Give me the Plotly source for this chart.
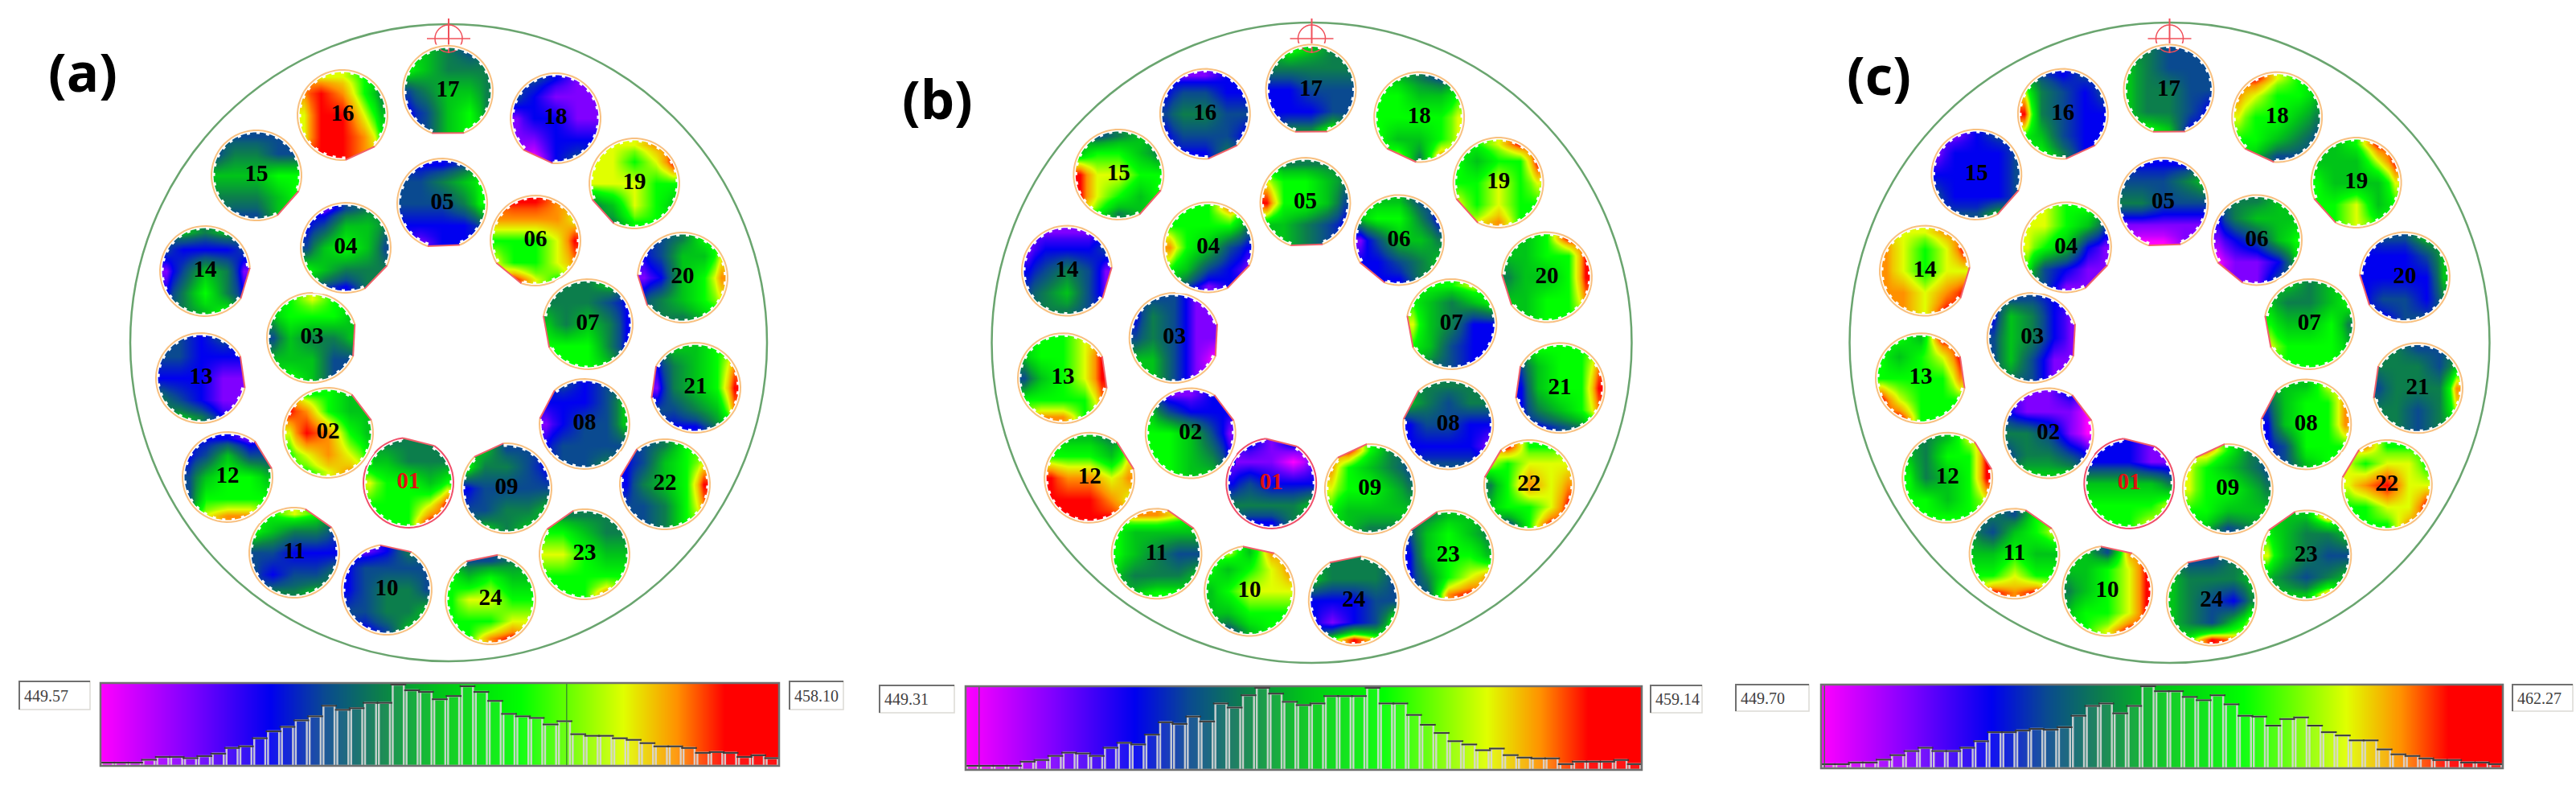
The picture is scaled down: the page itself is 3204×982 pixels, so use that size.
import numpy as np
import plotly.graph_objects as go

# wafer maps: levels 0 (magenta) .. 9 (red), 21 cells per pocket, read row by row
# rows have 3,5,5,5,3 cells (the square's corners fall outside the wafer)
plate_a = [
    [4,4,4, 5,5,4,4,4, 7,6,6,5,6, 6,6,6,7,9, 6,6,9],  # 01
    [6,6,5, 9,8,6,5,5, 7,9,8,6,5, 6,7,8,7,6, 6,7,8],
    [6,7,6, 5,6,6,6,5, 3,5,4,4,5, 5,5,5,3,3, 6,5,3],
    [1,3,4, 2,3,5,5,4, 3,5,6,5,3, 6,5,4,4,4, 3,2,4],
    [2,2,3, 3,3,4,5,6, 3,3,3,4,6, 2,2,2,2,3, 1,2,2],  # 05
    [9,9,8, 8,8,8,8,7, 6,6,6,7,9, 7,6,6,7,8, 9,7,6],
    [4,4,5, 4,4,4,3,2, 5,4,5,4,2, 6,6,6,4,2, 6,6,5],
    [3,2,3, 2,2,2,3,5, 1,2,3,3,5, 2,3,3,3,3, 3,3,4],
    [5,3,3, 6,4,4,3,2, 2,3,3,3,3, 3,3,4,4,5, 5,4,5],
    [1,2,4, 2,3,3,3,3, 2,3,4,4,3, 3,3,4,4,5, 2,3,5],  # 10
    [6,7,6, 6,5,4,4,3, 3,3,2,2,2, 3,2,3,3,4, 4,4,5],
    [2,2,1, 2,3,5,3,3, 3,5,6,6,5, 3,6,6,6,6, 7,8,8],
    [3,2,3, 3,3,2,2,2, 2,2,2,1,1, 4,3,2,1,1, 5,4,2],
    [5,4,5, 3,2,2,2,3, 1,3,5,4,1, 2,4,6,4,2, 4,5,6],
    [3,3,3, 3,4,4,3,3, 5,5,5,6,6, 4,4,4,5,6, 3,3,5],  # 15
    [7,7,6, 8,9,8,6,4, 7,9,9,7,5, 7,9,9,8,6, 9,9,8],
    [5,4,3, 6,5,4,4,4, 3,4,5,5,4, 2,3,5,6,4, 3,5,6],
    [3,2,1, 3,2,1,1,1, 1,2,2,1,1, 1,1,2,2,2, 0,2,3],
    [7,7,8, 7,7,6,7,9, 7,7,7,6,6, 4,5,7,6,5, 4,6,6],
    [3,4,6, 2,3,5,5,7, 1,2,5,6,8, 3,4,5,6,7, 4,4,5],  # 20
    [5,5,6, 2,4,5,6,8, 1,4,5,6,9, 3,3,4,5,8, 2,2,4],
    [3,4,6, 2,3,5,6,7, 2,4,5,6,9, 3,3,4,6,8, 3,4,6],
    [4,4,4, 6,6,5,4,4, 7,7,6,5,5, 6,6,6,6,6, 6,6,8],
    [3,3,4, 6,5,6,5,5, 6,7,7,6,6, 6,6,6,7,7, 6,8,9],
]
plate_b = [
    [2,1,2, 1,1,1,0,1, 2,3,2,2,2, 4,4,4,4,5, 2,2,4],  # 01
    [1,1,2, 5,3,2,2,2, 6,6,5,3,1, 6,6,5,4,2, 6,5,5],
    [3,3,1, 2,4,3,1,1, 3,4,3,1,1, 5,5,3,1,0, 5,3,1],
    [6,6,8, 6,6,6,6,4, 8,6,5,3,2, 6,5,3,2,1, 3,1,2],
    [4,4,4, 7,6,6,5,4, 9,6,6,5,3, 5,5,4,3,2, 5,4,3],  # 05
    [5,5,3, 5,6,6,4,2, 1,3,5,5,4, 2,2,3,4,5, 2,2,4],
    [6,6,7, 6,5,4,5,6, 7,5,4,2,2, 6,5,3,2,2, 4,3,2],
    [4,4,4, 5,4,3,4,4, 2,3,3,2,2, 2,2,2,2,1, 3,3,3],
    [9,6,4, 8,6,5,4,3, 7,6,6,5,4, 6,5,5,5,5, 5,4,4],
    [7,5,8, 6,5,6,7,8, 5,6,7,7,7, 5,5,6,6,6, 3,5,6],  # 10
    [8,8,7, 6,5,5,5,5, 6,5,4,3,3, 5,4,4,4,5, 5,6,6],
    [5,5,4, 6,6,6,5,7, 9,8,8,7,8, 9,9,9,8,7, 9,9,9],
    [6,6,7, 5,6,6,7,9, 3,5,6,7,9, 6,6,6,6,8, 8,8,6],
    [1,1,1, 1,2,2,2,3, 2,3,4,3,1, 3,4,5,3,1, 4,4,3],
    [3,4,5, 5,6,6,5,4, 9,7,7,6,6, 9,7,6,5,6, 6,4,5],  # 15
    [1,1,2, 2,3,3,2,2, 3,4,4,3,3, 2,3,3,3,2, 2,2,4],
    [6,5,4, 4,4,4,4,4, 2,2,3,3,3, 2,2,2,3,3, 4,4,6],
    [5,4,3, 6,6,5,5,6, 6,6,6,6,7, 6,5,5,6,7, 7,4,8],
    [6,7,9, 6,5,6,6,9, 6,6,7,6,7, 7,6,7,6,6, 7,8,6],
    [5,6,9, 5,5,6,6,9, 4,5,5,6,9, 5,5,6,6,8, 5,6,6],  # 20
    [6,6,6, 3,5,6,6,8, 2,5,6,6,9, 2,4,5,6,8, 2,3,4],
    [9,6,6, 7,6,7,7,7, 4,6,8,7,8, 5,6,6,7,9, 3,6,9],
    [4,5,5, 3,5,6,5,4, 2,5,6,6,5, 2,4,6,7,8, 3,8,9],
    [4,4,4, 5,4,4,4,3, 2,2,2,3,3, 2,1,2,3,6, 6,9,7],
]
plate_c = [
    [2,2,1, 2,2,2,1,1, 5,5,5,5,4, 6,6,6,6,7, 6,6,7],  # 01
    [1,1,2, 2,1,1,1,0, 4,4,3,1,0, 3,4,4,3,2, 5,5,5],
    [3,3,2, 2,5,4,2,1, 3,5,4,2,1, 3,5,3,1,1, 4,3,1],
    [7,6,6, 7,7,6,5,3, 7,6,5,2,1, 6,3,2,1,1, 3,1,1],
    [2,2,2, 3,3,3,4,5, 4,4,3,3,3, 1,1,1,1,1, 0,0,1],  # 05
    [4,4,5, 2,4,5,5,5, 1,2,3,5,6, 0,1,1,2,5, 1,1,3],
    [5,4,5, 5,4,4,5,6, 6,5,5,6,4, 7,6,6,6,5, 6,6,6],
    [5,5,7, 3,5,6,6,8, 2,5,6,6,8, 2,3,6,6,6, 3,5,6],
    [8,6,4, 7,6,5,4,3, 7,6,6,5,4, 6,6,5,5,5, 5,3,4],
    [5,3,8, 5,5,6,7,9, 4,5,6,7,9, 5,6,6,7,9, 6,7,9],  # 10
    [4,3,6, 4,3,5,6,7, 5,5,6,5,5, 6,6,7,6,6, 9,8,9],
    [4,5,7, 5,4,6,6,9, 6,4,5,6,9, 6,6,5,6,7, 6,6,6],
    [6,5,9, 6,5,6,7,9, 6,6,6,6,8, 9,7,6,6,6, 9,6,6],
    [7,7,8, 8,7,6,7,9, 8,7,6,7,7, 8,8,7,8,9, 8,7,9],
    [1,2,3, 1,2,2,2,3, 2,2,2,2,3, 3,2,2,2,3, 3,3,5],  # 15
    [3,2,3, 7,4,3,2,3, 9,4,3,2,2, 6,5,3,2,2, 6,4,2],
    [4,3,3, 5,4,3,3,3, 5,4,4,3,3, 5,4,4,3,2, 6,5,2],
    [9,7,6, 8,7,6,6,5, 7,6,6,5,4, 6,6,5,4,3, 5,3,3],
    [5,6,9, 5,5,5,7,9, 6,5,5,5,7, 6,6,7,5,6, 6,7,6],
    [3,3,5, 2,2,2,3,5, 2,2,2,2,5, 2,3,3,2,4, 2,3,3],  # 20
    [4,3,3, 4,4,4,3,5, 3,4,4,4,8, 4,4,3,4,7, 4,3,4],
    [8,6,6, 7,6,7,7,6, 7,8,9,7,7, 6,6,7,7,9, 6,6,8],
    [5,5,8, 6,5,4,4,5, 7,5,4,3,3, 5,4,3,4,5, 5,5,8],
    [3,3,4, 5,4,4,4,5, 5,4,3,2,4, 5,4,3,5,7, 6,9,8],
]

# pocket positions on the plate, relative to its centre (plate radius 396)
pocket_names = ["%02d" % i for i in range(1, 25)]
pocket_x = [-50, -150, -170, -128, -8, 108, 173, 169, 72, -77, -192, -275, -308, -303, -239, -132,
            -1, 133, 231, 291, 307, 269, 169, 52]
pocket_y = [174, 112, -6, -118, -173, -127, -23, 101, 181, 307, 261, 167, 44, -89, -208, -283,
            -313, -279, -198, -81, 56, 176, 263, 319]

# histogram heights, percent of the tallest bar
hist_a = [4,4,4,7.5,11,11,9.5,12,15,22,24,34,42.5,48,56,61,74,69,71,77.6,77.6,100,93,91,82,86,98,91,80,
          64,61,59,51,55,39,37,37,34,32,28,24,24,22,16,17,16,11,13,9.5]
hist_b = [5,5,5,5,10,12,17,21,20,17,27,33,31,43,58,56,65,59,81,76,91,100,93,83,79,81,90,90,90,100,
          81,81,67,55,45,35,31,24,26,18,15,14,14,7,10,10,10,12,7]
hist_c = [5,5,7,7,10.5,16,21,25,21,21,25,33,44,44,46,48,47,50,64,76,79,67,76,100,94,94,87,83,89,78,
          64,63,52,60,62,52,44,40,34,34,23,17,15,12,10,10,7,7,5]
range_a = ["449.57", "458.10"]
range_b = ["449.31", "459.14"]
range_c = ["449.70", "462.27"]
marker_a, marker_b, marker_c = 0.687, 0.02, 0.005
panel_labels = ["(a)", "(b)", "(c)"]

# colour bar: level reached at each fraction of its length
gradient_pos = [0, 0.13, 0.25, 0.33, 0.41, 0.5, 0.62, 0.77, 0.85, 0.92, 1]
gradient_lev = [0, 1, 2, 3, 4, 5, 6, 7, 8, 9, 9]
level_colors = ["#ff00ff", "#8000ff", "#0000f0", "#0a4a90", "#0c7e4c", "#00c418", "#00ff00",
                "#e0ff00", "#ff9000", "#ff0000"]
scale = [[i / 9, c] for i, c in enumerate(level_colors)]

R = 56
EDGES = [-1, -0.72, -0.25, 0.25, 0.72, 1]
RING_SHIFT = (-5, 6)
FLAT = 0.94

panels = [
    dict(levels=plate_a, hist=hist_a, rng=range_a, mark=marker_a, cx=558, cy=426, k=1.0,
         bar=(125, 969, 849, 952), lbox=(24, 112, 847, 882), rbox=(982, 1049, 847, 882), lab=(58, 88)),
    dict(levels=plate_b, hist=hist_b, rng=range_b, mark=marker_b, cx=1631.5, cy=426, k=1.005,
         bar=(1201, 2042, 853, 957), lbox=(1094, 1187, 852, 886), rbox=(2053, 2117, 852, 886), lab=(1120, 122)),
    dict(levels=plate_c, hist=hist_c, rng=range_c, mark=marker_c, cx=2698.5, cy=426, k=1.005,
         bar=(2265, 3113, 851, 955), lbox=(2159, 2250, 851, 884), rbox=(3125, 3200, 851, 884), lab=(2295, 92)),
]


def unfold(cells):
    # 21 cells -> 5x5 grid with empty corners
    rows = [[None] + cells[:3] + [None], cells[3:8], cells[8:13], cells[13:18], [None] + cells[18:21] + [None]]
    return rows


def wafer_outline(cx, cy, r, a):
    # circle with the flat facing direction a, as a list of points
    half = np.degrees(np.arccos(FLAT))
    angles = np.radians(np.arange(half, 360 - half + 0.1, 6)) + a
    return [(cx + r * np.cos(t), cy + r * np.sin(t)) for t in angles]


def to_path(points, close=True):
    s = "M" + " L".join("%.1f,%.1f" % p for p in points)
    return s + (" Z" if close else "")


def mask_points(i, xs, ys):
    # outer edge of the white mask round wafer i: the heatmap's cross-shaped footprint,
    # stopped short of any neighbouring wafer so the mask never bites into it
    pts = []
    for deg in np.arange(0, 360, 2):
        c, s = np.cos(np.radians(deg)), np.sin(np.radians(deg))
        u, v = max(abs(c), 1e-6), max(abs(s), 1e-6)
        reach = max(min(.72 / u, 1 / v), min(1 / u, .72 / v)) * R + 1.5
        for j in range(len(xs)):
            if j == i:
                continue
            dx, dy = xs[j] - xs[i], ys[j] - ys[i]
            along = dx * c + dy * s
            gap = R * R - (dx * dx + dy * dy - along * along)
            if along > 0 and gap > 0:
                reach = min(reach, max(along - np.sqrt(gap), R))
        pts.append((xs[i] + reach * c, ys[i] + reach * s))
    return pts


fig = go.Figure()
shapes = []
notes = []

for n, p in enumerate(panels):
    cx, cy, k = p["cx"], p["cy"], p["k"]
    plate_r = 396 * k
    shapes.append(dict(type="circle", x0=cx - plate_r, x1=cx + plate_r, y0=cy - plate_r, y1=cy + plate_r,
                       line=dict(color="#6aa56f", width=2.5)))
    # red target above pocket 17
    shapes.append(dict(type="circle", x0=cx - 17, x1=cx + 17, y0=cy - 395, y1=cy - 361,
                       line=dict(color="#f0505a", width=1.5)))
    shapes.append(dict(type="line", x0=cx - 27, x1=cx + 27, y0=cy - 378, y1=cy - 378,
                       line=dict(color="#f0505a", width=1.5)))
    shapes.append(dict(type="line", x0=cx, x1=cx, y0=cy - 403, y1=cy - 360,
                       line=dict(color="#f0505a", width=2)))

    xs = [cx + v * k for v in pocket_x]
    ys = [cy + v * k for v in pocket_y]
    for i, cells in enumerate(p["levels"]):
        wx, wy = xs[i], ys[i]
        fig.add_trace(go.Heatmap(x=[wx + e * R for e in EDGES], y=[wy + e * R for e in EDGES],
                                 z=unfold(cells), coloraxis="coloraxis", zsmooth="best",
                                 hoverinfo="skip"))
        a = np.arctan2(cy + RING_SHIFT[1] - wy, cx + RING_SHIFT[0] - wx)
        outline = wafer_outline(wx, wy, R, a)
        mask = to_path(mask_points(i, xs, ys)) + " " + to_path(outline)
        shapes.append(dict(type="path", path=mask, fillcolor="white", line=dict(width=0)))
        # toothed white rim of the measured area
        shapes.append(dict(type="path", path=to_path(wafer_outline(wx, wy, R - 1, a), close=False),
                           line=dict(color="white", width=3)))
        shapes.append(dict(type="path", path=to_path(wafer_outline(wx, wy, R - 3, a), close=False),
                           line=dict(color="white", width=3, dash="4px,8px")))
        shapes.append(dict(type="path", path=to_path(outline, close=False),
                           line=dict(color="#f0506a" if i == 0 else "#f8c080", width=2)))
        shapes.append(dict(type="line", x0=outline[0][0], y0=outline[0][1], x1=outline[-1][0], y1=outline[-1][1],
                           line=dict(color="#f0606a", width=2)))
    fig.add_trace(go.Scatter(x=xs, y=ys, mode="text", text=pocket_names, hoverinfo="skip",
                             textposition="middle center",
                             textfont=dict(family="Liberation Serif", size=29, weight="bold",
                                           color=["#e01010"] + ["black"] * 23)))

    # colour bar with the histogram on top
    x0, x1, y0, y1 = p["bar"]
    ax = n + 2
    fig.add_trace(go.Heatmap(x=gradient_pos, y=[0, 102], z=[gradient_lev], coloraxis="coloraxis",
                             zsmooth="best", hoverinfo="skip", xaxis="x%d" % ax, yaxis="y%d" % ax))
    bins = len(p["hist"])
    centres = (np.arange(bins) + 0.5) / bins
    fig.add_trace(go.Bar(x=centres, y=p["hist"], width=0.8 / bins, hoverinfo="skip",
                         marker=dict(color="rgba(255,255,255,0.08)",
                                     line=dict(color="rgba(215,215,215,0.9)", width=2.5)),
                         xaxis="x%d" % ax, yaxis="y%d" % ax))
    fig.add_trace(go.Scatter(x=centres, y=p["hist"], mode="markers", hoverinfo="skip",
                             marker=dict(symbol="line-ew", size=14, line=dict(color="#383838", width=2)),
                             xaxis="x%d" % ax, yaxis="y%d" % ax))
    fig.add_trace(go.Scatter(x=[p["mark"], p["mark"]], y=[-3, 102], mode="lines", hoverinfo="skip",
                             line=dict(color="#2e7d32", width=1.2), cliponaxis=False,
                             xaxis="x%d" % ax, yaxis="y%d" % ax))
    fig.layout["xaxis%d" % ax] = dict(domain=[x0 / 3204, x1 / 3204], range=[0, 1], visible=False,
                                      anchor="y%d" % ax)
    fig.layout["yaxis%d" % ax] = dict(domain=[1 - y1 / 982, 1 - y0 / 982], range=[0, 102], visible=False,
                                      anchor="x%d" % ax)
    shapes.append(dict(type="rect", x0=x0, x1=x1, y0=y0, y1=y1, layer="above",
                       line=dict(color="#707070", width=2.5)))

    # min / max boxes
    for box, txt in zip((p["lbox"], p["rbox"]), p["rng"]):
        shapes.append(dict(type="rect", x0=box[0], x1=box[1], y0=box[2], y1=box[3],
                           line=dict(color="#dcdad5", width=1.5), fillcolor="white"))
        shapes.append(dict(type="path", path="M%d,%d L%d,%d L%d,%d" % (box[0], box[3], box[0], box[2], box[1], box[2]),
                           line=dict(color="#707070", width=2)))
        notes.append(dict(x=box[0] + 4, y=(box[2] + box[3]) / 2, text=txt, showarrow=False, xanchor="left",
                          yanchor="middle", font=dict(family="Liberation Serif", size=20, color="#404040")))
    notes.append(dict(x=p["lab"][0], y=p["lab"][1], text="<b>%s</b>" % panel_labels[n], showarrow=False,
                      xanchor="left", yanchor="middle", font=dict(family="Open Sans", size=67, color="black")))

fig.update_layout(
    width=3204, height=982, margin=dict(l=0, r=0, t=0, b=0),
    paper_bgcolor="white", plot_bgcolor="white", showlegend=False,
    xaxis=dict(range=[0, 3204], visible=False, domain=[0, 1]),
    yaxis=dict(range=[982, 0], visible=False, domain=[0, 1]),
    coloraxis=dict(colorscale=scale, cmin=0, cmax=9, showscale=False),
    shapes=shapes, annotations=notes,
)
fig.write_html("out.html", config=dict(displayModeBar=False),
               post_script="document.body.style.margin='0';document.body.style.overflow='hidden';")
